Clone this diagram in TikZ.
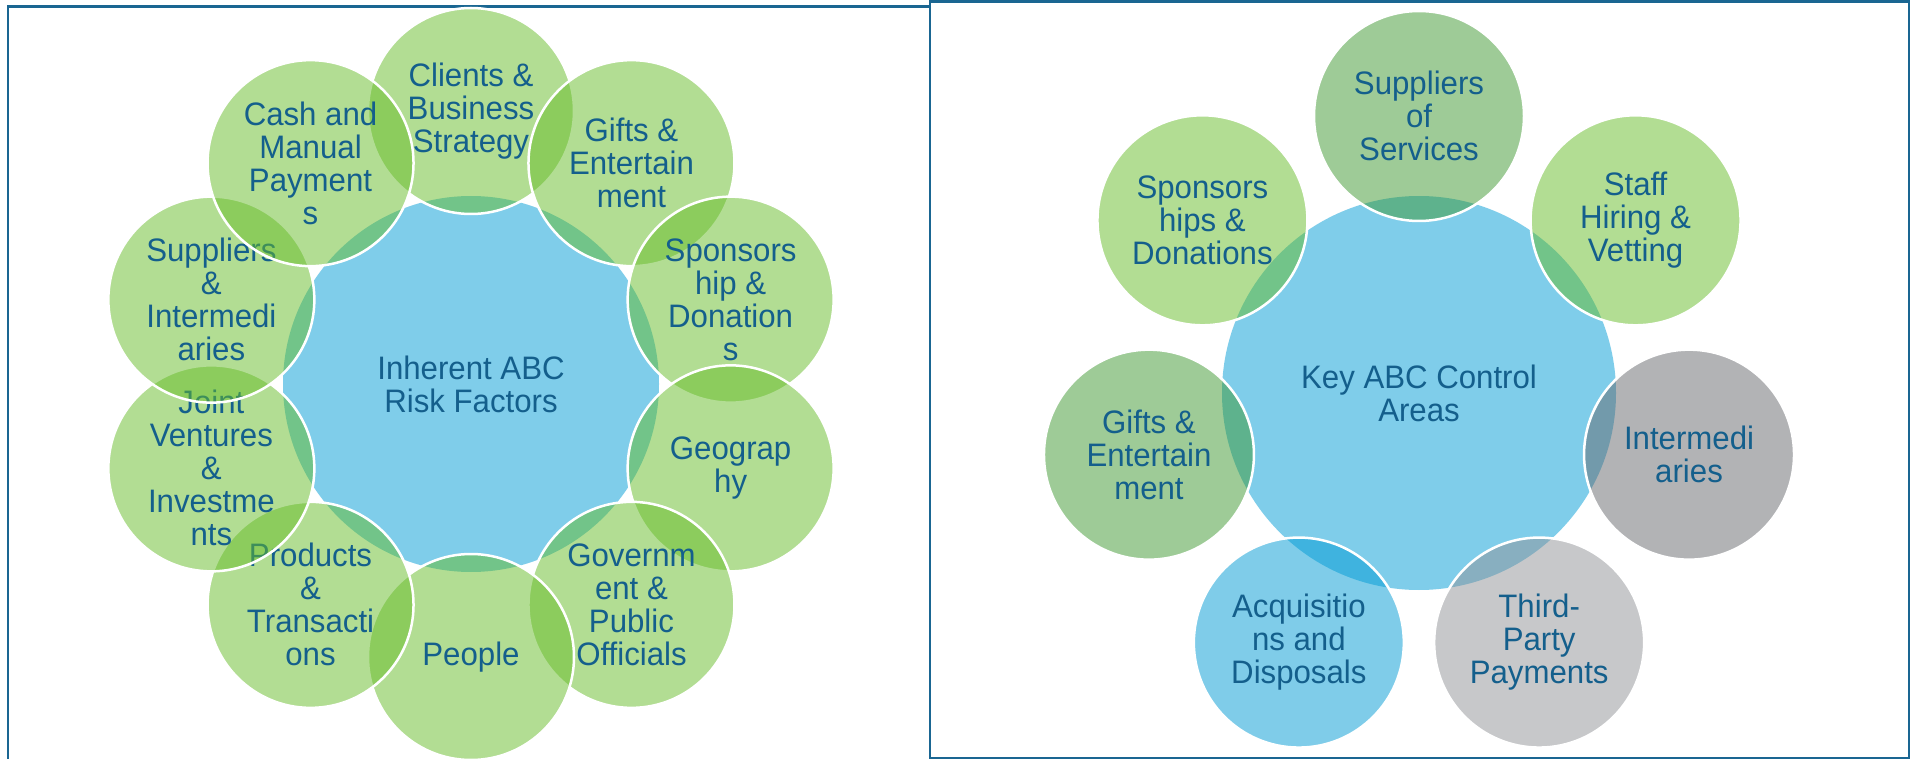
\documentclass[tikz,border=0pt]{standalone}
\usepackage{fontspec}
\setmainfont{Liberation Sans}[FakeStretch=0.96]
\definecolor{labelblue}{RGB}{20,95,140}
\definecolor{framecol}{RGB}{26,102,146}
\definecolor{hubblue}{RGB}{127,205,234}
\definecolor{leafgreen}{RGB}{103,189,41}
\definecolor{sagegreen}{RGB}{63,153,49}
\definecolor{slategray}{RGB}{103,105,109}
\definecolor{palegray}{RGB}{145,147,151}
\definecolor{seablue}{RGB}{0,155,213}
\begin{document}
\begin{tikzpicture}[x=1pt,y=1pt,
  caption/.style={text=labelblue, font=\fontsize{32.5}{33}\selectfont, align=center, text opacity=1},
  hub/.style={circle, fill=hubblue, inner sep=0pt, minimum size=#1, caption},
  petal/.style={circle, fill=#1, fill opacity=0.5, draw=white, draw opacity=1,
                line width=2.5pt, inner sep=0pt, caption},
  lpetal/.style={petal=#1, minimum size=206pt},
  rpetal/.style={petal=#1, minimum size=210pt},
  frame/.style={draw=framecol, line width=2.5pt}
]
\useasboundingbox (0,0) rectangle (1912,-759);
\clip (0,0) rectangle (1912,-759);
\fill[white] (0,0) rectangle (1912,-759);

% ---- panel frames ----
\draw[frame] (8,-800) -- (8,-6.3) -- (930,-6.3) -- (930,-800);
\draw[frame] (930,-1.5) rectangle (1909,-758);

% ---- inherent risk factors (radial venn, 10 petals) ----
\coordinate (lc) at (471,-384);
\node[hub=376pt] (lhub) at (lc) {Inherent ABC\\Risk Factors};
\path (lc) ++(90:273)   node[lpetal=leafgreen] (clients) {Clients \&\\Business\\Strategy};
\path (lc) ++(54:273)   node[lpetal=leafgreen] (gifts) {Gifts \&\\Entertain\\ment};
\path (lc) ++(18:273)   node[lpetal=leafgreen] (sponsor) {Sponsors\\hip \&\\Donation\\s};
\path (lc) ++(-18:273)  node[lpetal=leafgreen] (geo) {Geograp\\hy};
\path (lc) ++(-54:273)  node[lpetal=leafgreen] (gov) {Governm\\ent \&\\Public\\Officials};
\path (lc) ++(-90:273)  node[lpetal=leafgreen] (people) {People};
\path (lc) ++(-126:273) node[lpetal=leafgreen] (products) {Products\\\&\\Transacti\\ons};
\path (lc) ++(-162:273) node[lpetal=leafgreen] (joint) {Joint\\Ventures\\\&\\Investme\\nts};
\path (lc) ++(162:273)  node[lpetal=leafgreen] (suppliers) {Suppliers\\\&\\Intermedi\\aries};
\path (lc) ++(126:273)  node[lpetal=leafgreen] (cash) {Cash and\\Manual\\Payment\\s};

% ---- key control areas (radial venn, 7 petals) ----
\coordinate (rc) at (1419,-393);
\node[hub=394pt] (rhub) at (rc) {Key ABC Control\\Areas};
\path (rc) ++(90:277)      node[rpetal=sagegreen] (services) {Suppliers\\of\\Services};
\path (rc) ++(38.57:277)   node[rpetal=leafgreen] (staff) {Staff\\Hiring \&\\Vetting};
\path (rc) ++(-12.86:277)  node[rpetal=slategray] (interm) {Intermedi\\aries};
\path (rc) ++(-64.29:277)  node[rpetal=palegray] (thirdparty) {Third-\\Party\\Payments};
\path (rc) ++(-115.71:277) node[rpetal=seablue] (acq) {Acquisitio\\ns and\\Disposals};
\path (rc) ++(-167.14:277) node[rpetal=sagegreen] (rgifts) {Gifts \&\\Entertain\\ment};
\path (rc) ++(141.43:277)  node[rpetal=leafgreen] (rsponsor) {Sponsors\\hips \&\\Donations};
\end{tikzpicture}
\end{document}
